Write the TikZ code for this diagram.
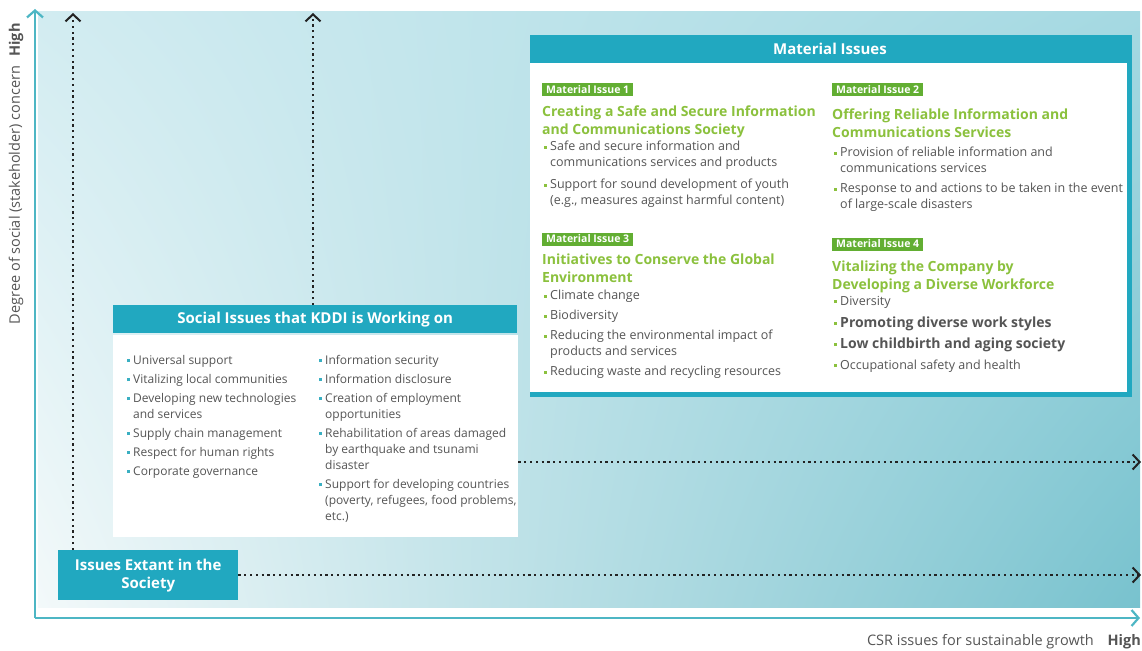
\documentclass[tikz,border=0pt]{standalone}
\usepackage{fontspec}
\setmainfont{Open Sans}
\usetikzlibrary{arrows.meta,shadings}
\definecolor{tealh}{HTML}{21A8C0}
\definecolor{axisc}{HTML}{4DB6C4}
\definecolor{tagg}{HTML}{62AE32}
\definecolor{titg}{HTML}{8BC13D}
\definecolor{bodyc}{HTML}{555555}
\definecolor{bulsoc}{HTML}{3AAFC2}
\definecolor{dotc}{HTML}{222222}
\definecolor{bgul}{HTML}{D2ECF1}
\definecolor{bgll}{HTML}{F3F9FA}
\definecolor{bgur}{HTML}{A5D9E2}
\definecolor{bglr}{HTML}{78C2CE}
\newcommand\bsoc{\leavevmode\llap{\textcolor{bulsoc}{\rule[2.2pt]{2.8pt}{2.8pt}}\hspace{3.5pt}}}
\newcommand\bmat{\leavevmode\llap{\textcolor{titg}{\rule[2.2pt]{2.8pt}{2.8pt}}\hspace{3.5pt}}}
\begin{document}
\begin{tikzpicture}[x=1pt,y=-1pt,
 hdr/.style={fill=tealh,text=white,font=\fontsize{15}{18}\selectfont\bfseries,inner sep=0pt},
 tagbox/.style={fill=tagg,text=white,font=\fontsize{10.5}{11}\selectfont\bfseries,inner xsep=4pt,inner ysep=1pt,anchor=west,minimum height=13pt},
 ttl/.style={text=titg,font=\fontsize{14}{17.5}\selectfont\bfseries,align=left,anchor=north west,inner sep=0pt},
 blist/.style={text=bodyc,font=\fontsize{12}{16}\selectfont,align=left,anchor=north west,inner sep=0pt},
 mlist/.style={blist,font=\fontsize{12.5}{16}\selectfont},
 dotarrow/.style={draw=dotc,line width=2.2pt,dash pattern=on 2.2pt off 3.6pt,-{Straight Barb[length=7pt,width=15pt,line width=2pt]}},
 axisline/.style={draw=axisc,line width=2.2pt,-{Straight Barb[length=7pt,width=16pt,line width=2.2pt]}},
 axlab/.style={text=bodyc,font=\fontsize{14.5}{16}\selectfont,inner sep=0pt},
 panel/.style={anchor=north west,inner sep=0pt}
]
\useasboundingbox (0,0) rectangle (1142,650);
% background
\shade[upper left=bgul, lower left=bgll, upper right=bgur, lower right=bglr] (38,12) rectangle (1140,607);
% axes
\coordinate (orig) at (35,618);
\coordinate (ytip) at (35,9);
\coordinate (xtip) at (1140,618);
\draw[axisline] (orig) -- (ytip);
\draw[axisline] (orig) -- (xtip);
\node[axlab,rotate=90,font=\fontsize{14.5}{16}\selectfont\bfseries] (yhigh) at (16,40) {High};
\node[axlab,rotate=90] (ylab) at (16,195) {Degree of social (stakeholder) concern};
\node[axlab,anchor=base east,font=\fontsize{14.5}{16}\selectfont\bfseries] (xhigh) at (1141,645) {High};
\node[axlab,anchor=base east] (xlab) at (1094,645) {CSR issues for sustainable growth};
% boxes
\node[hdr,panel,minimum width=180pt,minimum height=50pt,align=center] (extant) at (58,550) {Issues Extant in the\\Society};
\node[hdr,panel,minimum width=404pt,minimum height=28pt] (sochdr) at (113,305) {Social Issues that KDDI is Working on};
\node[panel,fill=white,minimum width=405pt,minimum height=202pt] (socbody) at (113,335) {};
% dotted arrows
\coordinate (t1) at (73,13);
\coordinate (t2) at (313,13);
\coordinate (r1) at (1141,462);
\coordinate (r2) at (1141,575);
\draw[dotarrow] (extant.north -| t1) -- (t1);
\draw[dotarrow] (sochdr.north -| t2) -- (t2);
\draw[dotarrow] (socbody.east |- r1) -- (r1);
\draw[dotarrow] (extant.east |- r2) -- (r2);
% social lists
\node[blist] (socl) at (133,355) {\bsoc Universal support\\[3pt]\bsoc Vitalizing local communities\\[3pt]\bsoc Developing new technologies\\and services\\[3pt]\bsoc Supply chain management\\[3pt]\bsoc Respect for human rights\\[3pt]\bsoc Corporate governance};
\node[blist] (socr) at (325,355) {\bsoc Information security\\[3pt]\bsoc Information disclosure\\[3pt]\bsoc Creation of employment\\opportunities\\[3pt]\bsoc Rehabilitation of areas damaged\\by earthquake and tsunami\\disaster\\[3pt]\bsoc Support for developing countries\\(poverty, refugees, food problems,\\etc.)};
% material issues panel
\node[panel,fill=tealh,minimum width=602pt,minimum height=362pt] (matframe) at (530,35) {};
\node[panel,fill=white,minimum width=597pt,minimum height=329pt] (matbody) at (530,63) {};
\node[text=white,font=\fontsize{15}{18}\selectfont\bfseries,inner sep=0pt] (mathdr) at (830,49) {Material Issues};
% issue 1
\node[tagbox] (tag1) at (542,90) {Material Issue 1};
\node[ttl] (ttl1) at (542,106) {Creating a Safe and Secure Information\\and Communications Society};
\node[mlist] (lst1) at (550,141) {\bmat Safe and secure information and\\communications services and products\\[6pt]\bmat Support for sound development of youth\\(e.g., measures against harmful content)};
% issue 3
\node[tagbox] (tag3) at (542,239) {Material Issue 3};
\node[ttl] (ttl3) at (542,254) {Initiatives to Conserve the Global\\Environment};
\node[mlist] (lst3) at (550,290) {\bmat Climate change\\[4pt]\bmat Biodiversity\\[4pt]\bmat Reducing the environmental impact of\\products and services\\[4pt]\bmat Reducing waste and recycling resources};
% issue 2
\node[tagbox] (tag2) at (832,90) {Material Issue 2};
\node[ttl] (ttl2) at (832,109) {Offering Reliable Information and\\Communications Services};
\node[mlist] (lst2) at (840,147) {\bmat Provision of reliable information and\\communications services\\[4pt]\bmat Response to and actions to be taken in the event\\of large-scale disasters};
% issue 4
\node[tagbox] (tag4) at (832,244) {Material Issue 4};
\node[ttl] (ttl4) at (832,261) {Vitalizing the Company by\\Developing a Diverse Workforce};
\node[mlist] (lst4) at (840,296) {\bmat Diversity\\[6pt]\bmat{\fontsize{14}{16}\selectfont\bfseries Promoting diverse work styles}\\[5pt]\bmat{\fontsize{14}{16}\selectfont\bfseries Low childbirth and aging society}\\[5pt]\bmat Occupational safety and health};
\end{tikzpicture}
\end{document}
